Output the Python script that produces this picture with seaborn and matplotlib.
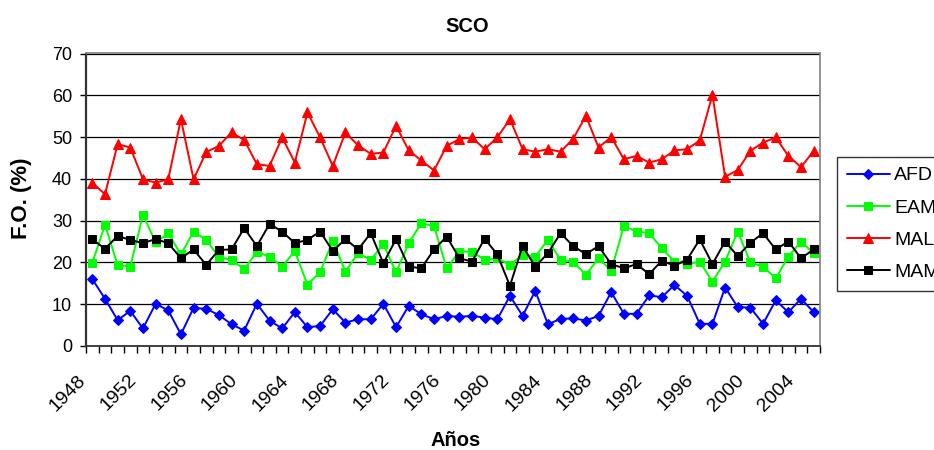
import numpy as np
import pandas as pd
import matplotlib
matplotlib.use('Agg')
import matplotlib.pyplot as plt
import matplotlib.transforms as mtransforms
import seaborn as sns

years = list(range(1948, 2006))

afd = [16.0, 11.3, 6.2, 8.4, 4.2, 10.1, 8.5, 2.8, 9.1, 8.9, 7.4, 5.2, 3.7, 10.1, 6.1, 4.2, 8.1, 4.5, 4.8,
       8.8, 5.6, 6.4, 6.4, 10.1, 4.5, 9.6, 7.6, 6.4, 7.2, 7.0, 7.2, 6.8, 6.4, 12.0, 7.2, 13.2, 5.2, 6.5,
       6.6, 6.1, 7.2, 12.9, 7.7, 7.7, 12.1, 11.7, 14.6, 12.0, 5.3, 5.3, 14.0, 9.3, 9.2, 5.3, 10.9, 8.1, 11.3, 8.1]
eam = [19.9, 29.0, 19.4, 19.0, 31.4, 24.8, 27.0, 21.9, 27.4, 25.4, 21.3, 20.6, 18.4, 22.5, 21.4, 19.0, 22.7, 14.7, 17.7,
       25.2, 17.8, 22.2, 20.6, 24.4, 17.6, 24.6, 29.4, 28.7, 18.6, 22.6, 22.6, 20.6, 21.0, 19.4, 21.8, 21.4, 25.4, 20.6,
       20.2, 17.0, 21.0, 18.0, 28.7, 27.4, 27.0, 23.4, 20.2, 19.6, 20.2, 15.4, 20.2, 27.4, 20.0, 19.0, 16.2, 21.4, 25.0, 22.2]
mal = [39.1, 36.3, 48.3, 47.5, 39.9, 39.1, 39.9, 54.3, 39.9, 46.4, 47.9, 51.1, 49.3, 43.5, 43.1, 49.9, 43.9, 55.9, 49.9,
       43.1, 51.1, 48.0, 46.0, 46.3, 52.7, 46.8, 44.4, 42.0, 47.9, 49.5, 49.9, 47.1, 49.9, 54.3, 47.1, 46.5, 47.1, 46.5,
       49.6, 55.1, 47.5, 50.0, 44.7, 45.5, 43.9, 44.7, 46.8, 47.1, 49.2, 60.1, 40.5, 42.1, 46.7, 48.7, 49.9, 45.5, 42.8, 46.7]
mam = [25.5, 23.3, 26.3, 25.4, 24.6, 25.6, 24.6, 21.0, 23.1, 19.4, 23.0, 23.1, 28.2, 23.9, 29.2, 27.4, 24.6, 25.4, 27.4,
       22.7, 25.6, 23.1, 27.0, 19.8, 25.6, 19.0, 18.6, 23.1, 26.2, 21.0, 20.2, 25.7, 21.9, 14.4, 23.9, 19.0, 22.2, 27.0,
       23.9, 22.0, 23.9, 19.6, 18.6, 19.6, 17.2, 20.4, 19.2, 20.7, 25.5, 19.6, 25.0, 21.5, 24.7, 27.0, 23.1, 25.0, 21.0, 23.1]

series = ['AFD', 'EAM', 'MAL', 'MAM']
colors = ['#0000FF', '#00FF00', '#FF0000', '#000000']
markers = ['D', 's', '^', 's']
msizes = [5.5, 6.3, 7.6, 5.8]

df = pd.DataFrame({'year': years, 'AFD': afd, 'EAM': eam, 'MAL': mal, 'MAM': mam})

sns.set_style('white')
plt.rcParams['font.family'] = ['Liberation Sans', 'DejaVu Sans']
plt.rcParams['text.color'] = 'black'
plt.rcParams['xtick.color'] = 'black'
plt.rcParams['ytick.color'] = 'black'

fig = plt.figure(figsize=(9.34, 4.5), dpi=100)
ax = fig.add_axes([86 / 934, 1 - 346 / 450, (820 - 86) / 934, (346 - 53.5) / 450])

for name, c, m, ms in zip(series, colors, markers, msizes):
    sns.lineplot(data=df, x='year', y=name, ax=ax, color=c, marker=m, markersize=ms,
                 markeredgecolor=c, markerfacecolor=c, linewidth=1.4, label=name, legend=False)

ax.set_xlim(1947.5, 2005.5)
ax.set_ylim(0, 70)
ax.set_yticks(range(0, 71, 10))
ax.set_xticks(years[::4])
ax.set_xticklabels([str(y) for y in years[::4]], rotation=45, ha='right', va='center',
                   rotation_mode='anchor')
ax.set_xticks(np.arange(1947.5, 2006, 1), minor=True)
ax.tick_params(axis='x', which='major', length=0, pad=0, labelsize=14)
ax.tick_params(axis='x', which='minor', length=5, width=1, direction='out', color='black', bottom=True)
ax.tick_params(axis='y', length=4.3, width=1, direction='out', color='black', left=True, labelsize=13, pad=5.8)

# shift rotated year labels to sit like the original
offset = mtransforms.ScaledTranslation(-9 / 100, -31.6 / 100, fig.dpi_scale_trans)
for lab in ax.get_xticklabels():
    lab.set_transform(lab.get_transform() + offset)

ax.grid(axis='y', color='black', linewidth=0.9)
ax.grid(axis='x', visible=False)
ax.set_axisbelow(True)
for s in ['top', 'right']:
    ax.spines[s].set_color('#808080')
    ax.spines[s].set_linewidth(1.2)
ax.spines['left'].set_color('#333333')
ax.spines['left'].set_linewidth(1.6)
ax.spines['bottom'].set_color('#333333')
ax.spines['bottom'].set_linewidth(1.3)

ax.set_xlabel('')
ax.set_ylabel('')
fig.text(467 / 934, 1 - 26 / 450, 'SCO', ha='center', va='center', fontsize=14.5, fontweight='bold')
fig.text(456 / 934, 1 - 440 / 450, 'Años', ha='center', va='center', fontsize=14.5, fontweight='bold')
fig.text(21 / 934, 1 - 198.5 / 450, 'F.O. (%)', ha='center', va='center', rotation=90,
         fontsize=16, fontweight='bold')

handles, labels = ax.get_legend_handles_labels()
leg = fig.legend(handles, labels, loc='upper left', bbox_to_anchor=(837 / 934, 1 - 157 / 450),
                 fontsize=14, frameon=True, fancybox=False, shadow=False, edgecolor='black',
                 handlelength=2.2, handletextpad=0.25, labelspacing=0.75, borderpad=0.5,
                 borderaxespad=0)
leg.get_frame().set_linewidth(1.0)

fig.savefig('out.png', dpi=100)
